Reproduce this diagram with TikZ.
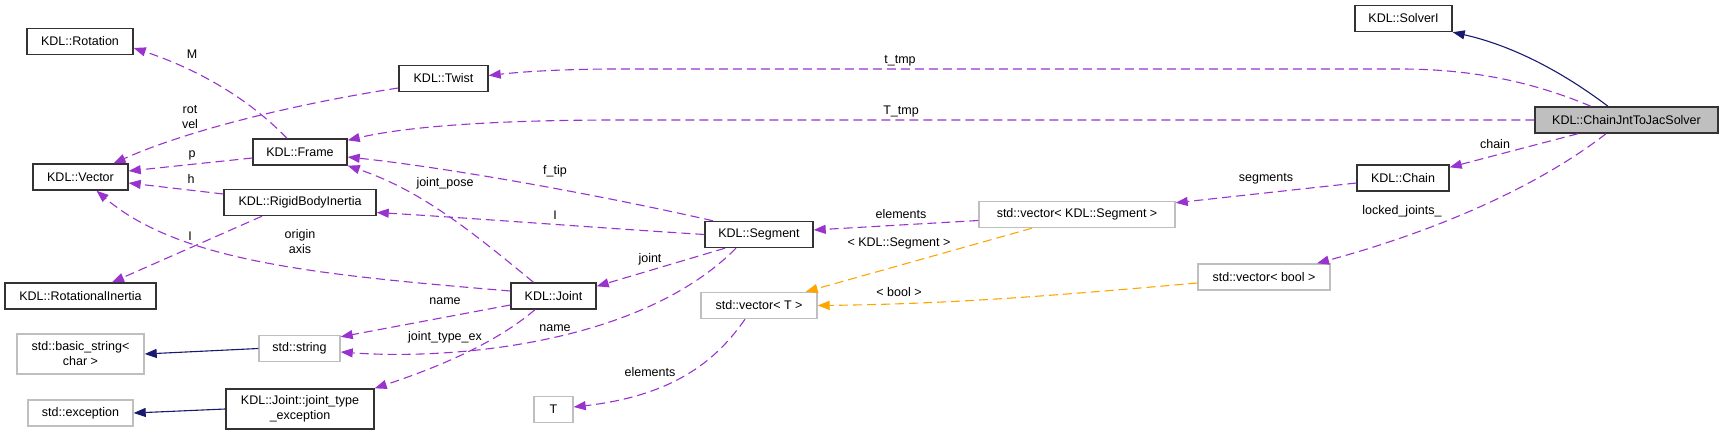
\documentclass[tikz,border=0pt]{standalone}
\usepackage{fontspec}
\setmainfont{Liberation Sans}
\usetikzlibrary{arrows.meta}
\definecolor{depcol}{HTML}{9A32CD}
\definecolor{tplcol}{HTML}{FFA500}
\definecolor{inhcol}{HTML}{191970}
\definecolor{extcol}{HTML}{BFBFBF}
\tikzset{
  cls/.style={draw=black!80, line width=1.4pt, fill=white, inner sep=0pt, minimum height=26pt, align=center},
  ext/.style={cls, draw=extcol},
  lbl/.style={inner sep=0pt, align=center},
  dep/.style={draw=depcol, line width=1.1pt, dash pattern=on 9pt off 5pt, -{Triangle[length=12pt,width=9pt]}},
  tpl/.style={dep, draw=tplcol},
  inh/.style={draw=inhcol, line width=1.1pt, -{Triangle[length=12pt,width=9pt]}},
}
\begin{document}
\begin{tikzpicture}[x=1pt,y=-1pt,every node/.style={font=\fontsize{12.5}{15}\selectfont}]
\useasboundingbox (0,0) rectangle (1723,435);
\node[cls, fill=extcol, minimum width=183pt] (1) at (1626.5,120) {KDL::ChainJntToJacSolver};
\node[cls, minimum width=97pt] (2) at (1403.5,18.5) {KDL::SolverI};
\node[cls, minimum width=89pt] (3) at (443.5,78.5) {KDL::Twist};
\node[cls, minimum width=94pt] (4) at (300,152) {KDL::Frame};
\node[cls, minimum width=106pt] (5) at (80,41.5) {KDL::Rotation};
\node[cls, minimum width=95pt] (6) at (80.5,177) {KDL::Vector};
\node[cls, minimum width=152pt] (7) at (300,202.5) {KDL::RigidBodyInertia};
\node[cls, minimum width=151pt] (8) at (80.5,296) {KDL::RotationalInertia};
\node[cls, minimum width=92pt] (9) at (1403,178) {KDL::Chain};
\node[ext, minimum width=196pt] (10) at (1077,214.5) {std::vector< KDL::Segment >};
\node[cls, minimum width=108pt] (11) at (759,234.5) {KDL::Segment};
\node[cls, minimum width=85pt] (12) at (553.5,296) {KDL::Joint};
\node[ext, minimum width=132pt] (13) at (1264,277) {std::vector< bool >};
\node[ext, minimum width=116pt] (14) at (759,305.5) {std::vector< T >};
\node[ext, minimum width=39pt] (15) at (553.5,409.5) {T};
\node[ext, minimum width=81pt] (16) at (299.5,348.5) {std::string};
\node[ext, minimum width=127pt, minimum height=40pt] (17) at (80.5,354) {std::basic\_string<\\char >};
\node[cls, minimum width=148pt, minimum height=40pt] (18) at (300,409) {KDL::Joint::joint\_type\\\_exception};
\node[ext, minimum width=105pt] (19) at (80.5,413) {std::exception};
\path[draw,inh] ([xshift=-18.5pt]1.north) .. controls (1560,70) and (1510,45) .. (2.south east);
\path[draw,dep] ([xshift=-35.5pt]1.north) .. controls (1540,85) and (1480,69) .. (1400,69) -- (620,69) .. controls (560,69) and (520,72) .. ([yshift=3pt]3.east);
\path[draw,dep] (1.west) -- (620,120) .. controls (480,120) and (400,128) .. ([yshift=-2pt]4.north east);
\path[draw,dep] ([xshift=-48.5pt]1.south) -- ([yshift=-3pt]9.north east);
\path[draw,dep] ([xshift=-20.5pt]1.south) .. controls (1540,185) and (1440,230) .. ([xshift=53pt]13.north);
\path[draw,dep] ([yshift=-5pt]9.west) -- ([yshift=-2pt]10.north east);
\path[draw,dep] ([yshift=-6pt]10.west) -- ([yshift=4.5pt]11.east);
\path[draw,tpl] ([xshift=-45pt]10.south) -- ([xshift=-12pt]14.north east);
\path[draw,tpl] ([yshift=-6pt]13.west) .. controls (1050,296) and (950,304) .. (14.east);
\path[draw,dep] ([xshift=-14pt]14.south) .. controls (720,355) and (680,395) .. ([yshift=2.5pt]15.east);
\path[draw,dep] ([xshift=-46pt]11.north) .. controls (600,195) and (450,168) .. ([yshift=-5pt]4.east);
\path[draw,dep] (11.west) .. controls (600,228) and (470,218) .. ([yshift=-10pt]7.east);
\path[draw,dep] ([xshift=-34pt]11.south) -- ([yshift=-4pt]12.north east);
\path[draw,dep] ([xshift=-23pt]11.south) .. controls (640,345) and (450,360) .. ([yshift=-3.5pt]16.east);
\path[draw,dep] ([xshift=-20pt]12.north) .. controls (470,230) and (420,190) .. (4.south east);
\path[draw,dep] ([yshift=5pt]12.west) .. controls (320,275) and (180,262) .. ([xshift=16pt]6.south);
\path[draw,dep] ([yshift=-9pt]12.west) -- ([yshift=-2pt]16.north east);
\path[draw,dep] ([xshift=-18.5pt]12.south) .. controls (505,335) and (460,360) .. (18.north east);
\path[draw,dep] ([xshift=-13pt]4.north) .. controls (250,100) and (200,70) .. ([yshift=-6.5pt]5.east);
\path[draw,dep] ([yshift=-6pt]4.west) -- ([yshift=6pt]6.east);
\path[draw,dep] ([yshift=-9.5pt]3.west) .. controls (320,100) and (200,125) .. ([xshift=33pt]6.north);
\path[draw,dep] ([yshift=8.5pt]7.west) -- ([yshift=-6pt]6.east);
\path[draw,dep] ([xshift=-38pt]7.south) -- ([xshift=31.5pt]8.north);
\path[draw,inh] (16.west) -- (17.east);
\path[draw,inh] (18.west) -- (19.east);
\node[lbl] (20) at (900,61) {t\_tmp};
\node[lbl] (21) at (901,112) {T\_tmp};
\node[lbl] (22) at (1495,144) {chain};
\node[lbl] (23) at (1402,211) {locked\_joints\_};
\node[lbl] (24) at (1266,179) {segments};
\node[lbl] (25) at (901,214) {elements};
\node[lbl] (26) at (899,243) {< KDL::Segment >};
\node[lbl] (27) at (899,292) {< bool >};
\node[lbl] (28) at (650,372) {elements};
\node[lbl] (29) at (555,171) {f\_tip};
\node[lbl] (30) at (555,215) {I};
\node[lbl] (31) at (650,259) {joint};
\node[lbl] (32) at (555,328) {name};
\node[lbl] (33) at (445,183) {joint\_pose};
\node[lbl] (34) at (300,241.5) {origin\\axis};
\node[lbl] (35) at (445,301) {name};
\node[lbl] (36) at (445,337) {joint\_type\_ex};
\node[lbl] (37) at (192,54) {M};
\node[lbl] (38) at (190,117) {rot\\vel};
\node[lbl] (39) at (192,155) {p};
\node[lbl] (40) at (191,179) {h};
\node[lbl] (41) at (190,236) {I};
\end{tikzpicture}
\end{document}
